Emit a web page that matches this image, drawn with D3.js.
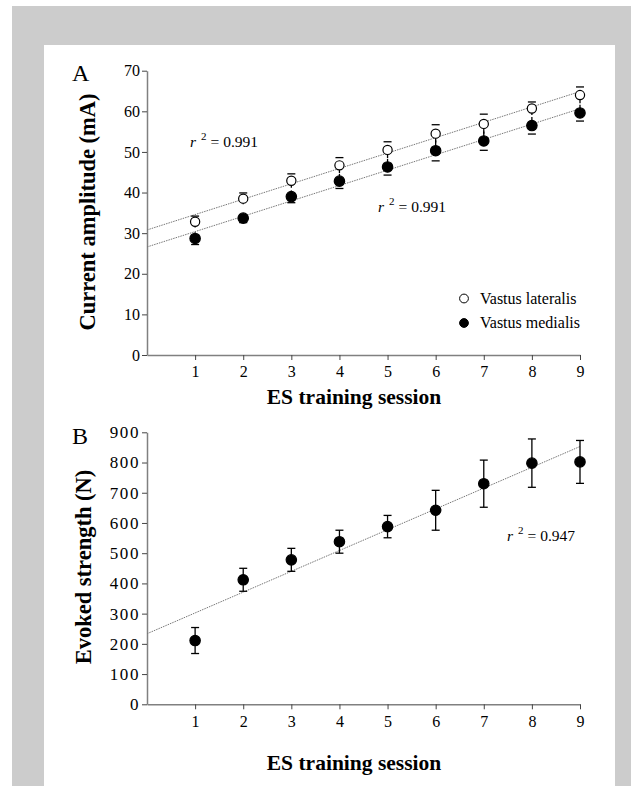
<!DOCTYPE html>
<html>
<head>
<meta charset="utf-8">
<script src="https://cdn.jsdelivr.net/npm/d3@7"></script>
<style>
  body { margin: 0; background: #fff; }
  text { font-family: "Liberation Serif", "Times New Roman", serif; fill: #000; }
  .tickText { font-size: 16px; }
  .tickWide { font-size: 17px; letter-spacing: 1.6px; }
  .axisTitle { font-size: 21.5px; font-weight: bold; }
  .panelLabel { font-size: 24px; }
  .rsq { font-size: 15.5px; }
  .legendText { font-size: 16px; }
</style>
</head>
<body>
<div id="chart"></div>
<script>
var w = 642;
var h = 786;

// session numbers on the x axis
var sessions = [1, 2, 3, 4, 5, 6, 7, 8, 9];

// panel A: current amplitude (mA), mean and SE
var lateralis = [32.8, 38.5, 42.9, 46.7, 50.5, 54.5, 56.9, 60.7, 64.0];
var lateralisErr = [1.4, 1.4, 1.7, 1.9, 2.0, 2.2, 2.4, 1.6, 2.0];
var medialis = [28.7, 33.7, 39.0, 42.8, 46.3, 50.3, 52.7, 56.5, 59.6];
var medialisErr = [1.5, 1.1, 1.5, 1.8, 2.0, 2.5, 2.3, 2.1, 2.0];

// panel B: evoked strength (N), mean and SE
var strength = [211, 412, 478, 538, 588, 642, 730, 798, 802];
var strengthErr = [43, 38, 38, 38, 37, 66, 78, 80, 71];

var ticksA = [0, 10, 20, 30, 40, 50, 60, 70];
var ticksB = [0, 100, 200, 300, 400, 500, 600, 700, 800, 900];
var legendNames = ["Vastus lateralis", "Vastus medialis"];
var rsqLabels = ["0.991", "0.991", "0.947"];

var svg = d3.select("#chart")
  .append("svg")
  .attr("width", w)
  .attr("height", h);

// grey frame + white sheet
svg.append("rect").attr("x", 12).attr("y", 6).attr("width", 619).attr("height", h - 6).attr("fill", "#cccccc");
svg.append("rect").attr("x", 44).attr("y", 45).attr("width", 571).attr("height", h - 45).attr("fill", "#fff");

var x = d3.scaleLinear().domain([0, 9]).range([147, 580]);
var yA = d3.scaleLinear().domain([0, 70]).range([355, 70.7]);
var yB = d3.scaleLinear().domain([0, 900]).range([704.3, 432.3]);

// least squares fit, used for the dotted trend lines
function fit(xs, ys) {
  var mx = d3.mean(xs), my = d3.mean(ys);
  var sxy = d3.sum(xs, function(d, i) { return (d - mx) * (ys[i] - my); });
  var sxx = d3.sum(xs, function(d) { return (d - mx) * (d - mx); });
  var b = sxy / sxx;
  return { a: my - b * mx, b: b };
}

function drawAxes(y, ticks, bottom, yClass) {
  var g = svg.append("g");
  var gx = g.append("g")
    .attr("transform", "translate(0," + bottom + ")")
    .call(d3.axisBottom(x).tickValues(sessions).tickSize(5).tickSizeOuter(0).tickPadding(6));
  var gy = g.append("g")
    .attr("transform", "translate(" + x(0) + ",0)")
    .call(d3.axisLeft(y).tickValues(ticks).tickSize(5).tickSizeOuter(0).tickPadding(2));
  g.selectAll(".domain").attr("stroke", "#808080").attr("stroke-width", 1.5);
  g.selectAll(".tick line").attr("stroke", "#444");
  g.selectAll(".tick text").attr("font-family", null).attr("font-size", null);
  gx.selectAll(".tick text").attr("class", "tickText");
  gy.selectAll(".tick text").attr("class", yClass);
  return g;
}

function trend(y, vals) {
  var f = fit(sessions, vals);
  svg.append("line")
    .attr("x1", x(0)).attr("y1", y(f.a))
    .attr("x2", x(9)).attr("y2", y(f.a + f.b * 9))
    .attr("stroke", "#777")
    .attr("stroke-width", 1)
    .attr("stroke-dasharray", "1.5,1");
}

// up = +1 draws the bar above the point, -1 below, 0 both ways
function errBars(y, vals, errs, up) {
  var g = svg.append("g").attr("stroke", "#000").attr("stroke-width", 1.3);
  g.selectAll("line.v")
    .data(vals)
    .enter()
    .append("line")
    .attr("x1", function(d, i) { return x(sessions[i]); })
    .attr("x2", function(d, i) { return x(sessions[i]); })
    .attr("y1", function(d, i) { return y(up < 0 ? d : d - errs[i]); })
    .attr("y2", function(d, i) { return y(up > 0 ? d : d + errs[i]) ; });
  var caps = [];
  vals.forEach(function(d, i) {
    if (up >= 0) caps.push([sessions[i], d + errs[i]]);
    if (up <= 0) caps.push([sessions[i], d - errs[i]]);
  });
  g.selectAll("line.c")
    .data(caps)
    .enter()
    .append("line")
    .attr("x1", function(d) { return x(d[0]) - 4; })
    .attr("x2", function(d) { return x(d[0]) + 4; })
    .attr("y1", function(d) { return y(d[1]); })
    .attr("y2", function(d) { return y(d[1]); });
}

function dots(y, vals, filled) {
  svg.append("g")
    .selectAll("circle")
    .data(vals)
    .enter()
    .append("circle")
    .attr("cx", function(d, i) { return x(sessions[i]); })
    .attr("cy", function(d) { return y(d); })
    .attr("r", filled ? 5.2 : 4.6)
    .attr("fill", filled ? "#000" : "#fff")
    .attr("stroke", "#000")
    .attr("stroke-width", 1.2);
}

function rsq(px, py, label) {
  var t = svg.append("text").attr("class", "rsq").attr("x", px).attr("y", py);
  t.append("tspan").attr("font-style", "italic").text("r");
  t.append("tspan").attr("dx", 5).attr("dy", -7).attr("font-size", "11px").text("2");
  t.append("tspan").attr("dx", 4).attr("dy", 7).text("= " + label);
}

//Panel A
drawAxes(yA, ticksA, yA(0), "tickText");
trend(yA, lateralis);
trend(yA, medialis);
errBars(yA, lateralis, lateralisErr, 1);
errBars(yA, medialis, medialisErr, -1);
dots(yA, lateralis, false);
dots(yA, medialis, true);

svg.append("text").attr("class", "panelLabel").attr("x", 72).attr("y", 81).text("A");
svg.append("text").attr("class", "axisTitle")
  .attr("text-anchor", "middle")
  .style("font-size", "22.5px")
  .attr("transform", "translate(95,212) rotate(-90)")
  .text("Current amplitude (mA)");
svg.append("text").attr("class", "axisTitle")
  .attr("text-anchor", "middle")
  .attr("x", 354).attr("y", 404)
  .text("ES training session");
rsq(190, 147, rsqLabels[0]);
rsq(378, 212, rsqLabels[1]);

// legend
var legend = svg.append("g");
legend.selectAll("circle")
  .data(legendNames)
  .enter()
  .append("circle")
  .attr("cx", 464)
  .attr("cy", function(d, i) { return 298.5 + i * 24.5; })
  .attr("r", 4.4)
  .attr("fill", function(d, i) { return i ? "#000" : "#fff"; })
  .attr("stroke", "#000")
  .attr("stroke-width", 1);
legend.selectAll("text")
  .data(legendNames)
  .enter()
  .append("text")
  .attr("class", "legendText")
  .attr("x", 480)
  .attr("y", function(d, i) { return 303.5 + i * 24.5; })
  .text(function(d) { return d; });

//Panel B
drawAxes(yB, ticksB, yB(0), "tickWide");
trend(yB, strength);
errBars(yB, strength, strengthErr, 0);
dots(yB, strength, true);

svg.append("text").attr("class", "panelLabel").attr("x", 72).attr("y", 444).text("B");
svg.append("text").attr("class", "axisTitle")
  .attr("text-anchor", "middle")
  .style("font-size", "22.5px")
  .attr("transform", "translate(91,567) rotate(-90)")
  .text("Evoked strength (N)");
svg.append("text").attr("class", "axisTitle")
  .attr("text-anchor", "middle")
  .attr("x", 354).attr("y", 770)
  .text("ES training session");
rsq(507, 541, rsqLabels[2]);
</script>
</body>
</html>
